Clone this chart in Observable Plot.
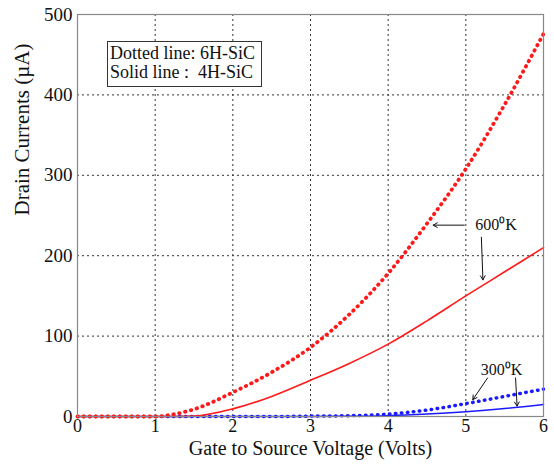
<!DOCTYPE html>
<html><head><meta charset="utf-8">
<script src="https://cdn.jsdelivr.net/npm/d3@7"></script>
<script src="https://cdn.jsdelivr.net/npm/@observablehq/plot@0.6"></script>
<style>
html,body{margin:0;padding:0;background:#fff;}
</style>
</head><body>
<div id="chart"></div>
<script>
// Gate-to-source voltage (Volts)
const voltage = [0, 0.5, 1, 1.25, 1.5, 2, 2.5, 3, 3.5, 4, 4.5, 5, 5.5, 6];
// Drain currents (µA)
const sic6H_600K = [0, 0, 0, 3, 9, 30, 55, 86, 127, 178, 240, 308, 388, 476];
const sic4H_600K = [0, 0, 0, 0, 0.5, 9.5, 25, 45, 66, 90, 119, 150, 180, 210];
const sic6H_300K = [0, 0, 0, 0, 0, 0, 0, 0.5, 1, 3, 8, 16, 25, 34];
const sic4H_300K = [0, 0, 0, 0, 0, 0, 0, 0, 0.3, 1, 3, 6, 10, 15];
const xTicks = [0, 1, 2, 3, 4, 5, 6];
const yTicks = [0, 100, 200, 300, 400, 500];

const series = (vals) => voltage.map((v, i) => ({x: v, y: vals[i]}));

// annotations (data units)
const labels = [
  {x: 5.39, y: 238, text: "600⁰K"},
  {x: 5.46, y: 58.5, text: "300⁰K"}
];
const arrows = [
  {x1: 4.98, y1: 238, x2: 4.58, y2: 238},
  {x1: 5.2, y1: 223, x2: 5.22, y2: 170},
  {x1: 5.28, y1: 48, x2: 5.09, y2: 21},
  {x1: 5.64, y1: 48, x2: 5.66, y2: 13}
];
const legendLines = ["Dotted line: 6H-SiC", "Solid line :  4H-SiC"];

const font = "'Liberation Serif', 'Times New Roman', serif";

const plot = Plot.plot({
  width: 554,
  height: 464,
  marginLeft: 77,
  marginRight: 11,
  marginTop: 14,
  marginBottom: 48,
  style: {fontFamily: font, fontSize: "18px", background: "#fff", color: "#111"},
  x: {domain: [0, 6]},
  y: {domain: [0, 500]},
  marks: [
    Plot.gridX([1, 2, 3, 4, 5], {stroke: "#333", strokeOpacity: 1, strokeDasharray: "2,3", strokeWidth: 1}),
    Plot.gridY([100, 200, 300, 400], {stroke: "#333", strokeOpacity: 1, strokeDasharray: "2,3", strokeWidth: 1}),
    Plot.axisX(xTicks, {tickSize: 0, tickPadding: 3, fontSize: 18, label: null}),
    Plot.axisY(yTicks, {tickSize: 0, tickPadding: 5, fontSize: 19, label: null}),
    Plot.text(["Gate to Source Voltage (Volts)"], {frameAnchor: "bottom", dy: 38, fontSize: 20, fill: "#111"}),
    Plot.text(["Drain Currents (µA)"], {frameAnchor: "left", dx: -55, rotate: -90, fontSize: 21, fill: "#111"}),
    // 300 K
    Plot.line(series(sic4H_300K), {x: "x", y: "y", stroke: "#1a1aff", strokeWidth: 1.5, curve: "monotone-x"}),
    Plot.line(series(sic6H_300K), {x: "x", y: "y", stroke: "#1a1aff", strokeWidth: 3.5, strokeDasharray: "0.5,5.5", strokeLinecap: "round", curve: "monotone-x"}),
    // 600 K
    Plot.line(series(sic4H_600K), {x: "x", y: "y", stroke: "#ff1a1a", strokeWidth: 1.6, curve: "monotone-x"}),
    Plot.line(series(sic6H_600K), {x: "x", y: "y", stroke: "#ff1a1a", strokeWidth: 3.8, strokeDasharray: "0.5,5.5", strokeLinecap: "round", curve: "monotone-x"}),
    Plot.arrow(arrows, {x1: "x1", y1: "y1", x2: "x2", y2: "y2", stroke: "#111", strokeWidth: 1, headLength: 7}),
    Plot.text(labels, {x: "x", y: "y", text: "text", fontSize: 16, fill: "#111"}),
    Plot.frame({stroke: "#888", strokeWidth: 1.2})
  ]
});

// legend box (top-left of the plot area)
const svg = d3.select(plot);
const g = svg.append("g")
  .attr("font-family", font).attr("font-size", 18).attr("fill", "#111")
  .attr("text-anchor", "start");
g.append("rect").attr("x", 107.5).attr("y", 41.5).attr("width", 154).attr("height", 45)
  .attr("fill", "#fff").attr("stroke", "#333").attr("stroke-width", 1);
legendLines.forEach((t, i) => {
  g.append("text").attr("x", 110).attr("y", 59 + i * 19)
    .attr("text-anchor", "start")
    .style("white-space", "pre").text(t);
});

document.getElementById("chart").append(plot);
</script>
</body></html>
